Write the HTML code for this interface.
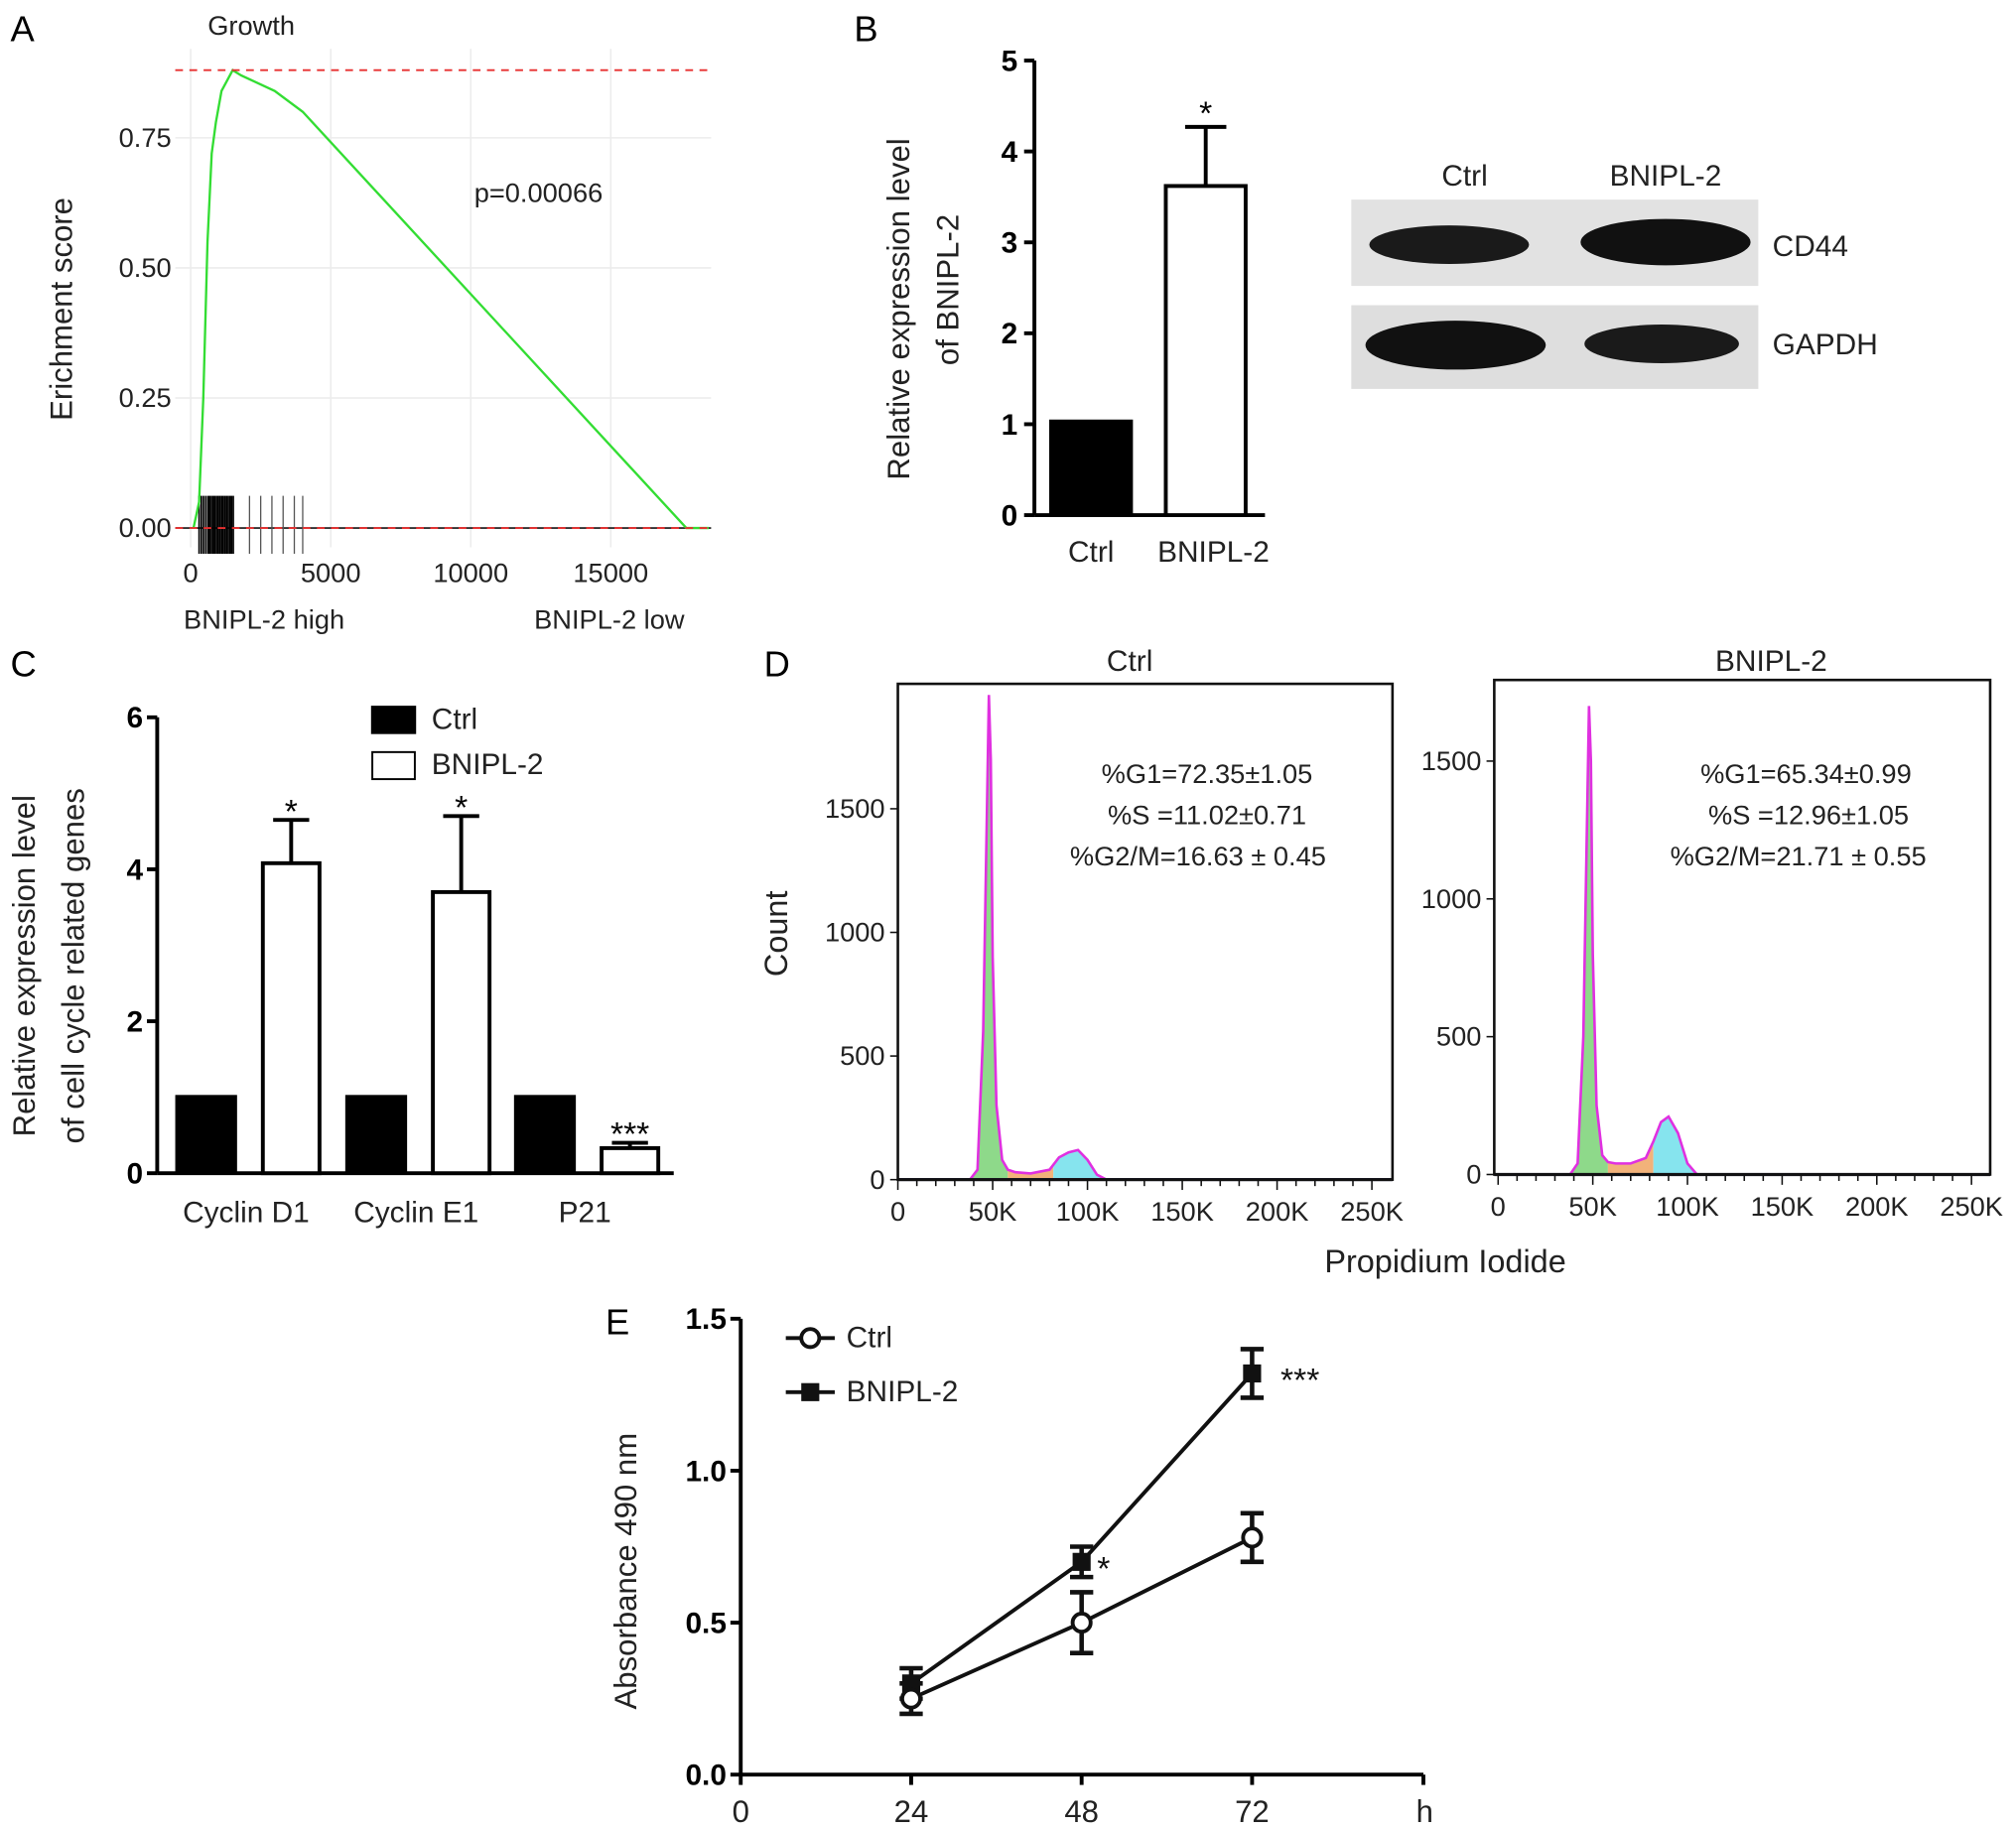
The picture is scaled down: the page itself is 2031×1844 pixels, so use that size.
<!DOCTYPE html>
<html><head><meta charset="utf-8">
<style>
html,body{margin:0;padding:0;background:#fff;}
svg{display:block;font-family:"Liberation Sans",Arial,sans-serif;}
.t{font-size:21px;fill:#222;}
.g{font-size:23px;fill:#222;}
.b{font-weight:bold;font-size:23px;}
</style></head>
<body>
<svg id="fig" width="2031" height="1844" viewBox="0 0 1565 1421" xmlns="http://www.w3.org/2000/svg">
<text x="8" y="32" font-size="28">A</text>
<text x="663" y="32" font-size="28">B</text>
<text x="8" y="525" font-size="28">C</text>
<text x="593" y="525" font-size="28">D</text>
<text x="470" y="1036" font-size="28">E</text>

<g id="pa">
<text x="195" y="27" class="t" text-anchor="middle">Growth</text>
<text transform="translate(56,240) rotate(-90)" text-anchor="middle" font-size="24" fill="#222">Erichment score</text>
<text x="418" y="157" class="t" text-anchor="middle">p=0.00066</text>
<text x="205" y="488" class="t" text-anchor="middle">BNIPL-2 high</text>
<text x="473" y="488" class="t" text-anchor="middle">BNIPL-2 low</text>
</g>

<g id="pb">
<text transform="translate(706,240) rotate(-90)" text-anchor="middle" font-size="24" fill="#222">Relative expression level</text>
<text transform="translate(744,225) rotate(-90)" text-anchor="middle" font-size="24" fill="#222">of BNIPL-2</text>
</g>
<g>
<text x="1137" y="144" class="g" text-anchor="middle">Ctrl</text>
<text x="1293" y="144" class="g" text-anchor="middle">BNIPL-2</text>
<rect x="1049" y="155" width="316" height="67" fill="#e2e2e2"/>
<ellipse cx="1125" cy="190" rx="62" ry="15" fill="#1a1a1a"/>
<ellipse cx="1293" cy="188" rx="66" ry="18" fill="#111"/>
<text x="1376" y="199" class="g">CD44</text>
<rect x="1049" y="237" width="316" height="65" fill="#dedede"/>
<ellipse cx="1130" cy="268" rx="70" ry="19" fill="#111"/>
<ellipse cx="1290" cy="267" rx="60" ry="15" fill="#1a1a1a"/>
<text x="1376" y="275" class="g">GAPDH</text>
</g>

<g id="pc">
<text transform="translate(27,750) rotate(-90)" text-anchor="middle" font-size="24" fill="#222">Relative expression level</text>
<text transform="translate(65,750) rotate(-90)" text-anchor="middle" font-size="24" fill="#222">of cell cycle related genes</text>
<rect x="288" y="548" width="35" height="22" fill="#000"/>
<text x="335" y="566" class="g">Ctrl</text>
<rect x="289" y="584" width="33" height="21" fill="#fff" stroke="#000" stroke-width="1.5"/>
<text x="335" y="601" class="g">BNIPL-2</text>
</g>

<g id="pd">
<text x="877" y="521" class="g" text-anchor="middle">Ctrl</text>
<text x="1375" y="521" class="g" text-anchor="middle">BNIPL-2</text>
<text transform="translate(611,725) rotate(-90)" text-anchor="middle" font-size="25" fill="#222">Count</text>
<text x="1122" y="988" text-anchor="middle" font-size="25" fill="#222">Propidium Iodide</text>
<text x="937" y="608" class="t" text-anchor="middle">%G1=72.35±1.05</text>
<text x="937" y="640" class="t" text-anchor="middle">%S =11.02±0.71</text>
<text x="930" y="672" class="t" text-anchor="middle">%G2/M=16.63 ± 0.45</text>
<text x="1402" y="608" class="t" text-anchor="middle">%G1=65.34±0.99</text>
<text x="1404" y="640" class="t" text-anchor="middle">%S =12.96±1.05</text>
<text x="1396" y="672" class="t" text-anchor="middle">%G2/M=21.71 ± 0.55</text>
</g>

<g id="pe">
<text transform="translate(494,1220) rotate(-90)" text-anchor="middle" font-size="24" fill="#222">Absorbance 490 nm</text>
<line x1="610" y1="1039" x2="648" y2="1039" stroke="#111" stroke-width="3"/>
<circle cx="629" cy="1039" r="7" fill="#fff" stroke="#111" stroke-width="3"/>
<text x="657" y="1046" class="g">Ctrl</text>
<line x1="610" y1="1081" x2="648" y2="1081" stroke="#111" stroke-width="3"/>
<rect x="622" y="1074" width="14" height="14" fill="#111"/>
<text x="657" y="1088" class="g">BNIPL-2</text>
</g>
</svg>

<script>
var NS="http://www.w3.org/2000/svg";
var svg=document.getElementById('fig');
function mk(tag,a){var e=document.createElementNS(NS,tag);for(var k in a)e.setAttribute(k,a[k]);svg.appendChild(e);return e;}

/* ---------- Panel A data ---------- */
var gseaRank=[100,300,450,600,750,900,1100,1500,1800,2200,3000,4000,17700,18500];
var gseaES=[0,0.05,0.25,0.55,0.72,0.78,0.84,0.88,0.87,0.86,0.84,0.80,0,0];
var rugRanks=[300,380,460,540,620,680,740,800,860,920,980,1040,1100,1160,1220,1280,1340,1400,1460,1520,2100,2500,2900,3300,3700,4000];
var gseaXTicks=[0,5000,10000,15000];
var gseaYTicks=[0,0.25,0.5,0.75];
var gseaYLabels=["0.00","0.25","0.50","0.75"];
function xA(v){return 148+v*108.7/5000;}
function yA(v){return 410-v*404;}
var el,i;
for(i=0;i<gseaXTicks.length;i++){
 el=mk('line',{x1:xA(gseaXTicks[i]),x2:xA(gseaXTicks[i]),y1:38,y2:425,stroke:'#ececec','stroke-width':1.2});
 
 
 el=mk('text',{x:xA(gseaXTicks[i]),y:452,'text-anchor':'middle','class':'t'});el.textContent=gseaXTicks[i];
 
 
}
for(i=0;i<gseaYTicks.length;i++){
 el=mk('line',{x1:136,x2:552,y1:yA(gseaYTicks[i]),y2:yA(gseaYTicks[i]),stroke:'#ececec','stroke-width':1.2});
 
 
 el=mk('text',{x:133,y:yA(gseaYTicks[i])+7,'text-anchor':'end','class':'t'});el.textContent=gseaYLabels[i];
 
 
}
el=mk('line',{x1:136,x2:552,y1:yA(0),y2:yA(0),stroke:'#333','stroke-width':1.5});


for(i=0;i<rugRanks.length;i++){
 el=mk('line',{x1:xA(rugRanks[i]),x2:xA(rugRanks[i]),y1:385,y2:430,stroke:i<20?'#000':'#555','stroke-width':i<20?1.3:1});
 
 
}
var pts=[];for(i=0;i<gseaRank.length;i++)pts.push(xA(gseaRank[i])+','+yA(gseaES[i]));
el=mk('polyline',{points:pts.join(' '),fill:'none',stroke:'#33dd33','stroke-width':1.8});


var esMax=Math.max.apply(null,gseaES);
el=mk('line',{x1:136,x2:552,y1:yA(esMax),y2:yA(esMax),stroke:'#e83030','stroke-width':1.5,'stroke-dasharray':'6,5'});


el=mk('line',{x1:136,x2:552,y1:yA(0),y2:yA(0),stroke:'#e83030','stroke-width':1.5,'stroke-dasharray':'6,5'});



/* ---------- Panel B data ---------- */
var bCats=["Ctrl","BNIPL-2"];
var bVals=[1.03,3.62];
var bErr=[0,0.65];
var bFill=["#000","#fff"];
var bTicks=[0,1,2,3,4,5];
function yB(v){return 400-v*70.6;}
var bX=[847,936];
el=mk('line',{x1:803,x2:803,y1:yB(5),y2:yB(0),stroke:'#000','stroke-width':3});


el=mk('line',{x1:803,x2:982,y1:yB(0),y2:yB(0),stroke:'#000','stroke-width':3});


for(i=0;i<bTicks.length;i++){
 el=mk('line',{x1:795,x2:803,y1:yB(bTicks[i]),y2:yB(bTicks[i]),stroke:'#000','stroke-width':3});
 
 
 el=mk('text',{x:790,y:yB(bTicks[i])+8,'text-anchor':'end','class':'b'});el.textContent=bTicks[i];
 
 
}
for(i=0;i<bCats.length;i++){
 if(bErr[i]>0){
  el=mk('line',{x1:bX[i],x2:bX[i],y1:yB(bVals[i]),y2:yB(bVals[i]+bErr[i]),stroke:'#000','stroke-width':3});
  
  
  el=mk('line',{x1:bX[i]-16,x2:bX[i]+16,y1:yB(bVals[i]+bErr[i]),y2:yB(bVals[i]+bErr[i]),stroke:'#000','stroke-width':3});
  
  
  el=mk('text',{x:bX[i],y:yB(bVals[i]+bErr[i])-2,'text-anchor':'middle','font-size':26,fill:'#000'});el.textContent='*';
  
  
 }
 el=mk('rect',{x:bX[i]-31,y:yB(bVals[i]),width:62,height:yB(0)-yB(bVals[i]),fill:bFill[i],stroke:'#000','stroke-width':3});
 
 
 el=mk('text',{x:bX[i]+(i==1?6:0),y:436,'text-anchor':'middle','class':'g'});el.textContent=bCats[i];
 
 
}

/* ---------- Panel C data ---------- */
var cGenes=["Cyclin D1","Cyclin E1","P21"];
var cCtrl=[1.03,1.03,1.03];
var cBnipl=[4.08,3.70,0.33];
var cBErr=[0.57,1.0,0.07];
var cSig=["*","*","***"];
var cTicks=[0,2,4,6];
function yC(v){return 911-v*59;}
var cCx=[193,325,456];
el=mk('line',{x1:122,x2:122,y1:yC(6),y2:yC(0),stroke:'#000','stroke-width':3});


el=mk('line',{x1:122,x2:523,y1:yC(0),y2:yC(0),stroke:'#000','stroke-width':3});


for(i=0;i<cTicks.length;i++){
 el=mk('line',{x1:114,x2:122,y1:yC(cTicks[i]),y2:yC(cTicks[i]),stroke:'#000','stroke-width':3});
 
 
 el=mk('text',{x:111,y:yC(cTicks[i])+8,'text-anchor':'end','class':'b'});el.textContent=cTicks[i];
 
 
}
for(i=0;i<cGenes.length;i++){
 var xc=cCx[i]-33, xb=cCx[i]+33;
 el=mk('rect',{x:xc-24,y:yC(cCtrl[i]),width:48,height:yC(0)-yC(cCtrl[i]),fill:'#000'});
 
 
 el=mk('line',{x1:xb,x2:xb,y1:yC(cBnipl[i]),y2:yC(cBnipl[i]+cBErr[i]),stroke:'#000','stroke-width':3});
 
 
 el=mk('line',{x1:xb-14,x2:xb+14,y1:yC(cBnipl[i]+cBErr[i]),y2:yC(cBnipl[i]+cBErr[i]),stroke:'#000','stroke-width':3});
 
 
 el=mk('rect',{x:xb-22,y:yC(cBnipl[i]),width:44,height:yC(0)-yC(cBnipl[i]),fill:'#fff',stroke:'#000','stroke-width':3});
 
 
 el=mk('text',{x:xb,y:yC(cBnipl[i]+cBErr[i])+2,'text-anchor':'middle','font-size':26,fill:'#000'});el.textContent=cSig[i];
 
 
 el=mk('text',{x:cCx[i]-2,y:949,'text-anchor':'middle','class':'g'});el.textContent=cGenes[i];
 
 
}

/* ---------- Panel D data ---------- */
var ctrlPI=[0,38,42,45,47,48,49,50,52,55,58,62,70,80,85,90,95,100,105,110,260];
var ctrlCount=[0,0,40,600,1500,1960,1700,900,300,80,40,30,25,40,90,110,120,80,20,0,0];
var bnPI=[0,38,42,45,47,48,49,50,52,55,58,62,70,78,82,86,90,95,100,105,260];
var bnCount=[0,0,40,500,1300,1700,1500,800,250,70,45,40,40,60,120,190,210,150,40,0,0];
var dXTicks=[0,50,100,150,200,250];
var dXLabels=["0","50K","100K","150K","200K","250K"];
var ctrlYTicks=[0,500,1000,1500];
var bnYTicks=[0,500,1000,1500];
function drawHist(px,py,pw,ph,x0,y0,xs,ys,xsArr,cnt,yt,name){
 var X=function(v){return x0+v*xs;},Y=function(v){return y0-v*ys;};
 var p=[];for(var j=0;j<xsArr.length;j++)p.push(X(xsArr[j])+','+Y(cnt[j]));
 var poly=p.join(' ')+' '+X(xsArr[xsArr.length-1])+','+y0+' '+X(0)+','+y0;
 var segs=[[0,58,'#8ed98a','g1'],[58,82,'#f2b27a','s'],[82,260,'#86e4ee','g2m']];
 for(var s=0;s<3;s++){
  var cid='clip'+name+s;
  var cp=mk('clipPath',{id:cid});
  var r=document.createElementNS(NS,'rect');r.setAttribute('x',X(segs[s][0]));r.setAttribute('y',py);r.setAttribute('width',X(segs[s][1])-X(segs[s][0]));r.setAttribute('height',ph);cp.appendChild(r);
  var f=mk('polygon',{points:poly,fill:segs[s][2],'clip-path':'url(#'+cid+')'});
  
  
 }
 var ln=mk('polyline',{points:p.join(' '),fill:'none',stroke:'#e030e0','stroke-width':2});
 
 
 var base=mk('line',{x1:px,x2:px+pw,y1:y0,y2:y0,stroke:'#223',"stroke-width":2.5});
 
 
 var bx=mk('rect',{x:px,y:py,width:pw,height:ph,fill:'none',stroke:'#111','stroke-width':2});
 
 
 for(var j2=0;j2<dXTicks.length;j2++){
  var t=mk('text',{x:X(dXTicks[j2]),y:py+ph+32,'text-anchor':'middle','class':'t'});t.textContent=dXLabels[j2];
  
  
 }
 for(var k=0;k<=25;k++){
  var m=mk('line',{x1:X(k*10),x2:X(k*10),y1:py+ph,y2:py+ph+(k%5==0?8:5),stroke:'#111','stroke-width':1.2});
  
  
 }
 for(var j3=0;j3<yt.length;j3++){
  var t2=mk('text',{x:px-10,y:Y(yt[j3])+7,'text-anchor':'end','class':'t'});t2.textContent=yt[j3];
  
  
  var m2=mk('line',{x1:px-6,x2:px,y1:Y(yt[j3]),y2:Y(yt[j3]),stroke:'#111','stroke-width':1.2});
  
  
 }
}
drawHist(697,531,384,385,697,916,73.6/50,96/500,ctrlPI,ctrlCount,ctrlYTicks,'ctrl');
drawHist(1160,528,385,384,1163,912,73.5/50,107/500,bnPI,bnCount,bnYTicks,'bnipl2');

/* ---------- Panel E data ---------- */
var eHours=[24,48,72];
var eCtrl=[0.25,0.50,0.78];
var eCtrlErr=[0.05,0.10,0.08];
var eBn=[0.30,0.70,1.32];
var eBnErr=[0.05,0.05,0.08];
var eSig=["","*","***"];
var eYTicks=[0,0.5,1.0,1.5];
var eYLabels=["0.0","0.5","1.0","1.5"];
var eXTicks=[0,24,48,72];
function xE(v){return 575+v*(397/72);}
function yE(v){return 1378-v*236;}
el=mk('line',{x1:575,x2:575,y1:yE(1.5),y2:yE(0),stroke:'#000','stroke-width':3});


el=mk('line',{x1:575,x2:1105,y1:yE(0),y2:yE(0),stroke:'#000','stroke-width':3});


for(i=0;i<eYTicks.length;i++){
 el=mk('line',{x1:567,x2:575,y1:yE(eYTicks[i]),y2:yE(eYTicks[i]),stroke:'#000','stroke-width':3});
 
 
 el=mk('text',{x:564,y:yE(eYTicks[i])+8,'text-anchor':'end','class':'b'});el.textContent=eYLabels[i];
 
 
}
for(i=0;i<eXTicks.length;i++){
 el=mk('line',{x1:xE(eXTicks[i]),x2:xE(eXTicks[i]),y1:yE(0),y2:yE(0)+8,stroke:'#000','stroke-width':3});
 
 
 el=mk('text',{x:xE(eXTicks[i]),y:1415,'text-anchor':'middle','font-size':24,fill:'#222'});el.textContent=eXTicks[i];
 
 
}
el=mk('line',{x1:1105,x2:1105,y1:yE(0),y2:yE(0)+8,stroke:'#000','stroke-width':3});


el=mk('text',{x:1106,y:1415,'text-anchor':'middle','font-size':24,fill:'#222'});el.textContent='h';


function series(vals,errs,name){
 var p=[];for(var j=0;j<eHours.length;j++)p.push(xE(eHours[j])+','+yE(vals[j]));
 var l=mk('polyline',{points:p.join(' '),fill:'none',stroke:'#111','stroke-width':3});
 
 
 for(var q=0;q<eHours.length;q++){
  var x=xE(eHours[q]),lo=yE(vals[q]-errs[q]),hi=yE(vals[q]+errs[q]);
  var e1=mk('line',{x1:x,x2:x,y1:lo,y2:hi,stroke:'#111','stroke-width':3.5});
  
  
  var e2=mk('line',{x1:x-9,x2:x+9,y1:lo,y2:lo,stroke:'#111','stroke-width':3.5});
  
  
  var e3=mk('line',{x1:x-9,x2:x+9,y1:hi,y2:hi,stroke:'#111','stroke-width':3.5});
  
  
 }
}
series(eBn,eBnErr,'bnipl2');
series(eCtrl,eCtrlErr,'ctrl');
for(i=0;i<eHours.length;i++){
 el=mk('rect',{x:xE(eHours[i])-7,y:yE(eBn[i])-7,width:14,height:14,fill:'#111'});
 
 
 el=mk('circle',{cx:xE(eHours[i]),cy:yE(eCtrl[i]),r:7,fill:'#fff',stroke:'#111','stroke-width':3});
 
 
 if(eSig[i]){
  el=mk('text',{x:xE(eHours[i])+(i==2?22:12),y:yE(eBn[i])+14,'font-size':26,fill:'#111'});el.textContent=eSig[i];
  
  
 }
}
</script>
</body></html>
